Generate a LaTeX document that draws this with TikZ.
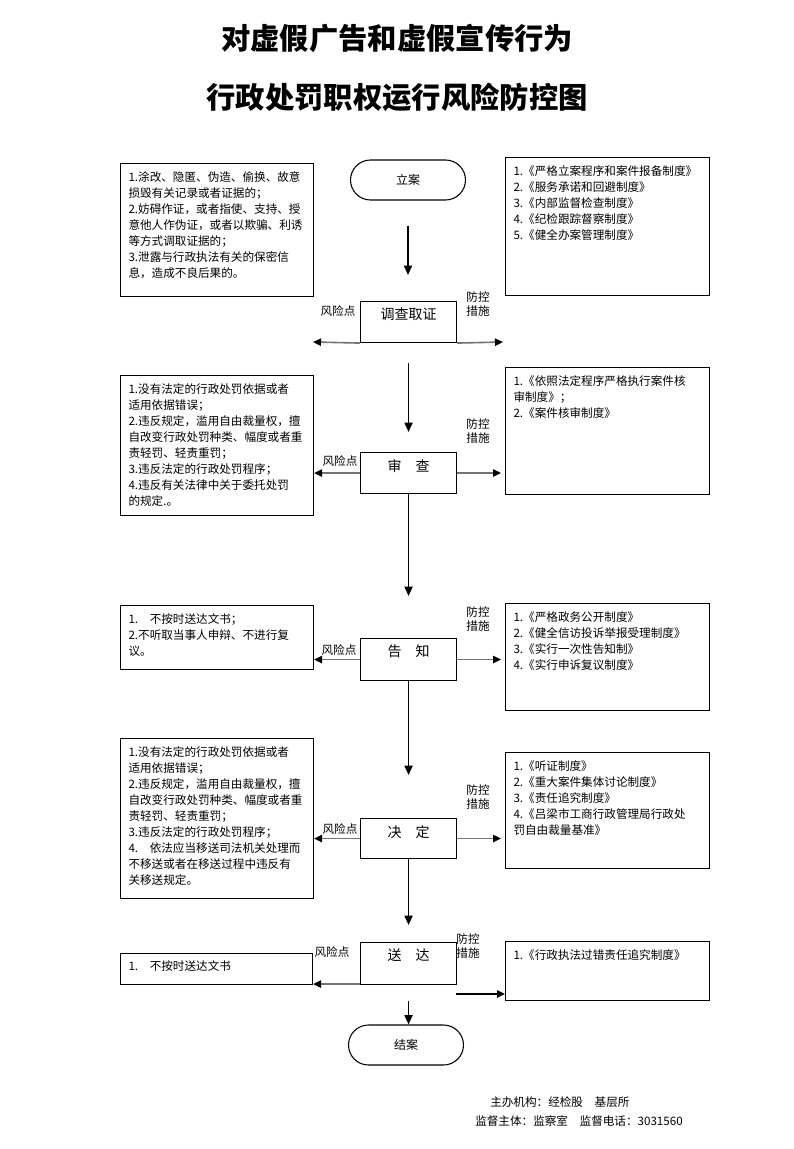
\documentclass[tikz,border=0pt]{standalone}
\usepackage{fontspec}
\setmainfont{Noto Sans CJK SC}
\usetikzlibrary{arrows.meta}

% Text block inside a box: width, height, lines
\newcommand{\boxtxt}[3]{\parbox[t][#2][t]{#1}{#3}}

\begin{document}
\begin{tikzpicture}[x=0.75pt,y=-0.75pt,
    title/.style={font=\fontsize{22pt}{26pt}\selectfont\bfseries},
    riskbox/.style={draw, line width=0.8pt, anchor=north west, inner xsep=6pt, inner ysep=6pt,
        font=\fontsize{8.7pt}{12pt}\selectfont},
    stepbox/.style={draw, line width=0.8pt, anchor=north west, inner xsep=0pt, inner ysep=5pt,
        font=\fontsize{10.5pt}{12pt}\selectfont},
    endbox/.style={draw, line width=0.8pt, rounded corners=15pt, minimum width=86.25pt,
        minimum height=30pt, font=\fontsize{9pt}{11pt}\selectfont},
    tag/.style={font=\fontsize{8.7pt}{10.5pt}\selectfont, align=center, inner sep=0pt},
    flow/.style={line width=1.4pt, -{Triangle[length=7pt,width=6pt]}},
    riskarrow/.style={line width=1.2pt, draw=black!55, -{Triangle[length=6pt,width=5.5pt,color=black]}},
    blackarrow/.style={riskarrow, draw=black}]

    % Fix the page size
    \useasboundingbox (0,0) rectangle (793,1149);

    % Title
    \node[title] (t1) at (397,38) {对虚假广告和虚假宣传行为};
    \node[title] (t2) at (397,97) {行政处罚职权运行风险防控图};

    % Start and end
    \node[endbox] (lian) at (408,180) {立案};
    \node[endbox] (jiean) at (406,1045) {结案};

    % Steps of the procedure
    \node[stepbox] (dc) at (360,301) {\boxtxt{72pt}{20.75pt}{\centering 调查取证}};
    \node[stepbox] (sc) at (360,452) {\boxtxt{72pt}{20.75pt}{\centering 审　查}};
    \node[stepbox] (gz) at (360,638) {\boxtxt{72pt}{21.5pt}{\centering 告　知}};
    \node[stepbox] (jd) at (360,818) {\boxtxt{72pt}{20pt}{\centering 决　定}};
    \node[stepbox] (sd) at (360,942) {\boxtxt{72pt}{21.5pt}{\centering 送　达}};

    % Risk points (left)
    \node[riskbox] (l1) at (120,163) {\boxtxt{132.75pt}{87.75pt}{%
        1.涂改、隐匿、伪造、偷换、故意\\
        损毁有关记录或者证据的；\\
        2.妨碍作证，或者指使、支持、授\\
        意他人作伪证，或者以欺骗、利诱\\
        等方式调取证据的；\\
        3.泄露与行政执法有关的保密信\\
        息，造成不良后果的。}};
    \node[riskbox] (l2) at (120,375) {\boxtxt{132.75pt}{93pt}{%
        1.没有法定的行政处罚依据或者\\
        适用依据错误；\\
        2.违反规定，滥用自由裁量权，擅\\
        自改变行政处罚种类、幅度或者重\\
        责轻罚、轻责重罚；\\
        3.违反法定的行政处罚程序；\\
        4.违反有关法律中关于委托处罚\\
        的规定.。}};
    \node[riskbox] (l3) at (120,605) {\boxtxt{132.75pt}{36pt}{%
        1.　不按时送达文书；\\
        2.不听取当事人申辩、不进行复\\
        议。}};
    \node[riskbox] (l4) at (120,738) {\boxtxt{132.75pt}{108pt}{%
        1.没有法定的行政处罚依据或者\\
        适用依据错误；\\
        2.违反规定，滥用自由裁量权，擅\\
        自改变行政处罚种类、幅度或者重\\
        责轻罚、轻责重罚；\\
        3.违反法定的行政处罚程序；\\
        4.　依法应当移送司法机关处理而\\
        不移送或者在移送过程中违反有\\
        关移送规定。}};
    \node[riskbox, inner ysep=5pt] (l5) at (120,953) {\boxtxt{132pt}{13.25pt}{%
        1.　不按时送达文书}};

    % Control measures (right)
    \node[riskbox] (r1) at (505,157) {\boxtxt{141pt}{91.5pt}{%
        1.《严格立案程序和案件报备制度》\\
        2.《服务承诺和回避制度》\\
        3.《内部监督检查制度》\\
        4.《纪检跟踪督察制度》\\
        5.《健全办案管理制度》}};
    \node[riskbox] (r2) at (505,367) {\boxtxt{141pt}{83.25pt}{%
        1.《依照法定程序严格执行案件核\\
        审制度》；\\
        2.《案件核审制度》}};
    \node[riskbox] (r3) at (505,603) {\boxtxt{141pt}{68.25pt}{%
        1.《严格政务公开制度》\\
        2.《健全信访投诉举报受理制度》\\
        3.《实行一次性告知制》\\
        4.《实行申诉复议制度》}};
    \node[riskbox] (r4) at (505,752) {\boxtxt{141pt}{75pt}{%
        1.《听证制度》\\
        2.《重大案件集体讨论制度》\\
        3.《责任追究制度》\\
        4.《吕梁市工商行政管理局行政处\\
        罚自由裁量基准》}};
    \node[riskbox] (r5) at (505,941) {\boxtxt{141pt}{32.25pt}{%
        1.《行政执法过错责任追究制度》}};

    % Main flow
    \draw[flow, shorten <=18.75pt, shorten >=19.5pt] (lian.south) -- (lian.south |- dc.north);
    \draw[flow, shorten <=15pt, shorten >=15pt] (dc.south) -- (dc.south |- sc.north);
    \draw[flow, shorten >=31.5pt] (sc.south) -- (sc.south |- gz.north);
    \draw[flow, shorten >=32.25pt] (gz.south) -- (gz.south |- jd.north);
    \draw[flow, shorten >=12.75pt] (jd.south) -- (jd.south |- sd.north);
    \draw[flow, shorten <=12pt] (sd.south) -- (sd.south |- jiean.north);

    % Side arrows
    \coordinate (dcL) at (313,342);
    \coordinate (dcR) at (503,342);
    \draw[riskarrow] (dc.south west) -- (dcL);
    \draw[riskarrow] (dc.south east) -- (dcR);
    \draw[riskarrow] (sc.west) -- (sc.west -| l2.east);
    \draw[riskarrow, shorten >=3pt] (sc.east) -- (sc.east -| r2.west);
    \draw[riskarrow] (gz.west) -- (gz.west -| l3.east);
    \draw[riskarrow, shorten >=3pt] (gz.east) -- (gz.east -| r3.west);
    \draw[riskarrow] (jd.west) -- (jd.west -| l4.east);
    \draw[riskarrow, shorten >=3pt] (jd.east) -- (jd.east -| r4.west);
    \draw[riskarrow] ([yshift=0.75pt]sd.south west) -- ([yshift=0.75pt]sd.south west -| l5.east);
    \coordinate (sdA) at (456,994);
    \draw[blackarrow] (sdA) -- (sdA -| r5.west);

    % Labels of the side arrows
    \node[tag] (f1) at (338,311) {风险点};
    \node[tag] (f2) at (340,461) {风险点};
    \node[tag] (f3) at (339,650) {风险点};
    \node[tag] (f4) at (340,829) {风险点};
    \node[tag] (f5) at (332,952) {风险点};
    \node[tag] (c1) at (478,304) {防控\\措施};
    \node[tag] (c2) at (478,431) {防控\\措施};
    \node[tag] (c3) at (478,619) {防控\\措施};
    \node[tag] (c4) at (478,797) {防控\\措施};
    \node[tag] (c5) at (468,946) {防控\\措施};

    % Footer
    \node[tag, anchor=west] (org) at (490,1102) {主办机构：经检股　基层所};
    \node[tag, anchor=west] (sup) at (475,1121) {监督主体：监察室　监督电话：3031560};

\end{tikzpicture}
\end{document}
